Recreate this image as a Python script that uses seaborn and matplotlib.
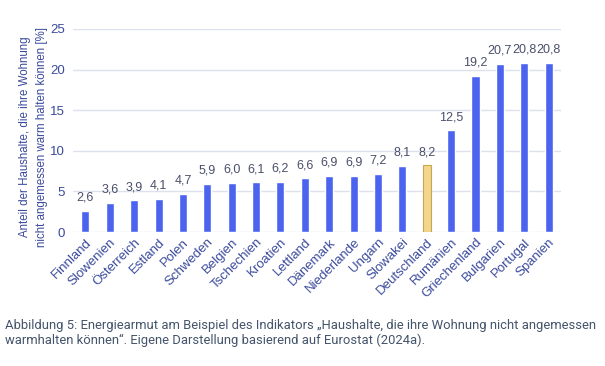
import matplotlib
matplotlib.use("Agg")
import matplotlib.pyplot as plt
import seaborn as sns
import pandas as pd

countries = ["Finnland", "Slowenien", "Österreich", "Estland", "Polen", "Schweden",
             "Belgien", "Tschechien", "Kroatien", "Lettland", "Dänemark", "Niederlande",
             "Ungarn", "Slowakei", "Deutschland", "Rumänien", "Griechenland",
             "Bulgarien", "Portugal", "Spanien"]
values = [2.6, 3.6, 3.9, 4.1, 4.7, 5.9, 6.0, 6.1, 6.2, 6.6, 6.9, 6.9, 7.2, 8.1, 8.2,
          12.5, 19.2, 20.7, 20.8, 20.8]
highlight = "Deutschland"

blue = "#4B63EE"
gold = "#F2D68C"
text_col = "#3A4A9C"

df = pd.DataFrame({"Land": countries, "Wert": values})
palette = {c: (gold if c == highlight else blue) for c in countries}

sns.set_style("white")
plt.rcParams["font.family"] = ["Liberation Sans", "DejaVu Sans"]
fig = plt.figure(figsize=(6.05, 3.66), dpi=100)
ax = fig.add_axes([0.121, 0.366, 0.806, 0.555])

sns.barplot(data=df, x="Land", y="Wert", hue="Land", palette=palette,
            width=0.33, legend=False, ax=ax, saturation=1)
for p, c in zip(ax.patches, countries):
    if c == highlight:
        p.set_edgecolor("#C8A650")
        p.set_linewidth(0.8)

for i, v in enumerate(values):
    ax.text(i, v + 0.9, f"{v:.1f}".replace(".", ","), ha="center", va="bottom",
            fontsize=9, color="#4A4F6A")

ax.set_ylim(0, 25)
ax.set_xlim(-0.5, len(countries) - 0.5)
ax.set_yticks([0, 5, 10, 15, 20, 25])
ax.yaxis.grid(True, color="#DDE1EE", linewidth=1)
ax.set_axisbelow(True)
for s in ax.spines.values():
    s.set_visible(False)
ax.tick_params(axis="both", length=0, colors=text_col, labelsize=9.5)
ax.tick_params(axis="y", pad=6)
ax.tick_params(axis="x", pad=3)
plt.setp(ax.get_xticklabels(), rotation=45, ha="right", rotation_mode="anchor")
ax.set_xlabel("")
ax.set_ylabel("Anteil der Haushalte, die ihre Wohnung\nnicht angemessen warm halten können [%]",
              color=text_col, fontsize=8.3, linespacing=1.5)
ax.yaxis.set_label_coords(-0.052, 0.468)

fig.text(0.008, 0.0895, "Abbildung 5: Energiearmut am Beispiel des Indikators „Haushalte, die ihre Wohnung nicht angemessen\n"
         "warmhalten können“. Eigene Darstellung basierend auf Eurostat (2024a).",
         fontsize=9.4, color="#44546A", ha="left", va="center", linespacing=1.15,
         family=["Roboto", "DejaVu Sans"])

fig.savefig("out.png", dpi=100)
